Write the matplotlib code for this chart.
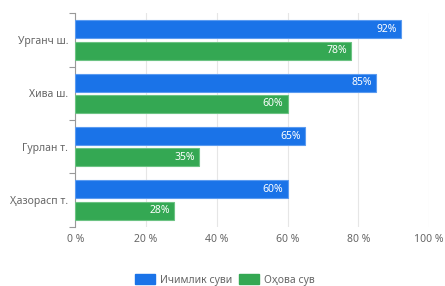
import numpy as np
import matplotlib
matplotlib.use("Agg")
import matplotlib.pyplot as plt
from matplotlib.patches import Patch

# ------------------------------------------------------------------ #
#  Data
# ------------------------------------------------------------------ #
districts = ["Урганч ш.", "Хива ш.", "Гурлан т.", "Ҳазорасп т."]
drinking = [92, 85, 65, 60]
irrigation = [78, 60, 35, 28]
series_names = ["Ичимлик суви", "Оҳова сув"]
xticks = [0, 20, 40, 60, 80, 100]

BLUE = "#1a73e8"
GREEN = "#34a853"
GREY = "#666666"

plt.rcParams["font.family"] = ["Noto Sans", "DejaVu Sans"]

fig = plt.figure(figsize=(4.45, 2.86), dpi=100)
ax = fig.add_axes([75.3 / 445, 1 - 226.7 / 286, (429 - 75.3) / 445, (226.7 - 13.3) / 286])

y = np.arange(len(districts))
h = 0.335
for vals, off, color, edge in [(drinking, -0.2, BLUE, "#5b9bf0"), (irrigation, 0.2, GREEN, "#6cc383")]:
    bars = ax.barh(y + off, vals, height=h, color=color, edgecolor=edge, linewidth=0.8, zorder=3)
    for b, v in zip(bars, vals):
        ax.text(v - 1.2, b.get_y() + b.get_height() / 2, f"{v}%", color="white",
                fontsize=7.5, ha="right", va="center", zorder=4)

ax.set_xlim(0, 100)
ax.set_ylim(len(districts) - 0.5, -0.5)
ax.set_xticks(xticks)
ax.set_xticklabels([f"{t} %" for t in xticks])
ax.set_yticks(y)
ax.set_yticklabels(districts)
ax.set_yticks(np.arange(-0.5, len(districts)), minor=True)
ax.tick_params(axis="y", which="major", length=0, pad=5, labelsize=7.5, labelcolor=GREY)
ax.tick_params(axis="y", which="minor", length=4, color="#999999", width=0.8)
ax.tick_params(axis="x", length=0, pad=5, labelsize=7.5, labelcolor=GREY)
ax.grid(axis="x", color="#e6e6e6", linewidth=0.8, zorder=0)
for s in ["top", "right", "bottom"]:
    ax.spines[s].set_visible(False)
ax.spines["left"].set_color("#999999")
ax.spines["left"].set_linewidth(0.8)

handles = [Patch(facecolor=BLUE, edgecolor=BLUE), Patch(facecolor=GREEN, edgecolor=GREEN)]
fig.legend(handles, series_names, loc="center", bbox_to_anchor=(225 / 445, 1 - 280 / 286),
           ncol=2, frameon=False, fontsize=7.5, handlelength=1.9, handleheight=1.0,
           handletextpad=0.5, columnspacing=0.7, labelcolor=GREY)

plt.savefig("out.png", dpi=100)
plt.close()
